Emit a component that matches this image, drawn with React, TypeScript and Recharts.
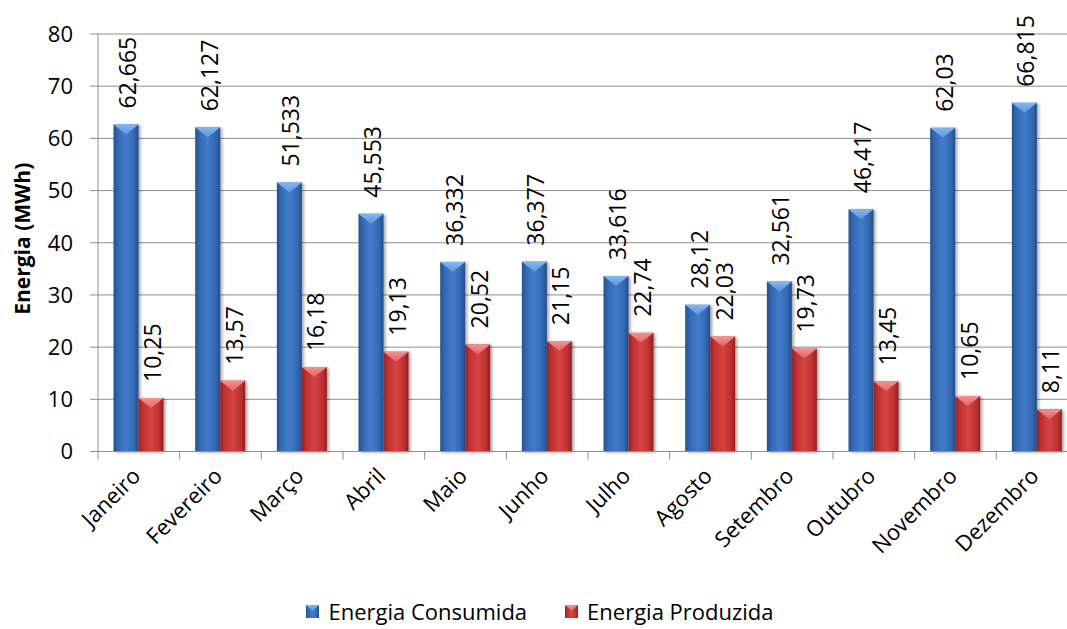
import React from 'react';
import { BarChart, Bar, XAxis, YAxis, CartesianGrid, Legend, LabelList, Label } from 'recharts';

// dados
const meses = ['Janeiro', 'Fevereiro', 'Março', 'Abril', 'Maio', 'Junho', 'Julho', 'Agosto', 'Setembro', 'Outubro', 'Novembro', 'Dezembro'];
const consumida = [62.665, 62.127, 51.533, 45.553, 36.332, 36.377, 33.616, 28.12, 32.561, 46.417, 62.03, 66.815];
const produzida = [10.25, 13.57, 16.18, 19.13, 20.52, 21.15, 22.74, 22.03, 19.73, 13.45, 10.65, 8.11];
const yTicks = [0, 10, 20, 30, 40, 50, 60, 70, 80];

const data = meses.map((m, i) => ({ mes: m, consumida: consumida[i], produzida: produzida[i] }));

const FONT = '"Open Sans", sans-serif';
const CHART_W = 1090;
const CHART_H = 629;
const MARGIN = { top: 34, right: 12, left: 0, bottom: 0 };
const Y_W = 98;
const BAND = (CHART_W - MARGIN.right - MARGIN.left - Y_W) / meses.length;
const GRID = '#8e8e8e';

const fmt = (v: number) => String(v).replace('.', ',');

const makeShape = (id: string, bevel: string) => (props: any) => {
  const { x, y, width, height } = props;
  if (!height || height <= 0) return null;
  const b = Math.min(width * 0.4, height);
  return (
    <g filter="url(#sombra)">
      <rect x={x} y={y} width={width} height={height} fill={`url(#${id})`} />
      <polygon points={`${x},${y} ${x + width},${y} ${x + width / 2},${y + b}`} fill={`url(#${bevel})`} />
    </g>
  );
};

const BarLabel = (props: any) => {
  const { x, y, width, value } = props;
  const cx = x + width / 2 + 1;
  const cy = y - 16;
  return (
    <text x={cx} y={cy} transform={`rotate(-90, ${cx}, ${cy})`} textAnchor="start" dominantBaseline="central"
      fontFamily={FONT} fontSize={23} fill="#000">
      {fmt(value)}
    </text>
  );
};

const XTick = (props: any) => {
  const { x, y, payload } = props;
  const bx = x - BAND / 2;
  const px = x + 3;
  const py = y + 26;
  return (
    <g>
      <line x1={bx} y1={y} x2={bx} y2={y + 8} stroke={GRID} strokeWidth={1} />
      <text x={px} y={py} transform={`rotate(-45, ${px}, ${py})`} textAnchor="end" fontFamily={FONT} fontSize={22} fill="#000">
        {payload.value}
      </text>
    </g>
  );
};

const Icone = ({ grad, bevel }: { grad: string; bevel: string }) => (
  <svg width={13} height={13} style={{ marginRight: 9 }}>
    <rect x={0} y={0} width={13} height={13} fill={`url(#${grad})`} />
    <polygon points="0,0 13,0 6.5,6" fill={`url(#${bevel})`} />
  </svg>
);

const Legenda = () => (
  <div style={{ display: 'flex', justifyContent: 'center', alignItems: 'center', height: '100%', fontFamily: FONT, fontSize: 22, color: '#000' }}>
    <span style={{ display: 'flex', alignItems: 'center', marginRight: 38 }}>
      <Icone grad="azul" bevel="azulTopo" />Energia Consumida
    </span>
    <span style={{ display: 'flex', alignItems: 'center' }}>
      <Icone grad="vermelho" bevel="vermelhoTopo" />Energia Produzida
    </span>
  </div>
);

const Gradientes = () => (
  <>
    <linearGradient id="azul" x1="0" y1="0" x2="1" y2="0">
      <stop offset="0%" stopColor="#25508f" />
      <stop offset="18%" stopColor="#3469b3" />
      <stop offset="50%" stopColor="#427cca" />
      <stop offset="82%" stopColor="#3469b3" />
      <stop offset="100%" stopColor="#244c88" />
    </linearGradient>
    <linearGradient id="azulTopo" x1="0" y1="0" x2="0" y2="1">
      <stop offset="0%" stopColor="#86b6f0" />
      <stop offset="100%" stopColor="#5f95dc" />
    </linearGradient>
    <linearGradient id="vermelho" x1="0" y1="0" x2="1" y2="0">
      <stop offset="0%" stopColor="#962323" />
      <stop offset="18%" stopColor="#bf3131" />
      <stop offset="50%" stopColor="#d84343" />
      <stop offset="82%" stopColor="#bf3131" />
      <stop offset="100%" stopColor="#8e2020" />
    </linearGradient>
    <linearGradient id="vermelhoTopo" x1="0" y1="0" x2="0" y2="1">
      <stop offset="0%" stopColor="#f19393" />
      <stop offset="100%" stopColor="#e06464" />
    </linearGradient>
  </>
);

export default function App() {
  return (
    <div style={{ position: 'absolute', left: 0, top: 0, width: 1067, height: 629, overflow: 'hidden', background: '#fff' }}>
      <BarChart width={CHART_W} height={CHART_H} data={data} margin={MARGIN} barCategoryGap="19%" barGap={0}>
        <defs>
          <Gradientes />
          <filter id="sombra" x="-20%" y="-5%" width="150%" height="115%">
            <feDropShadow dx={2} dy={1} stdDeviation={1.5} floodColor="#000" floodOpacity={0.35} />
          </filter>
        </defs>
        <CartesianGrid vertical={false} stroke={GRID} strokeWidth={1} />
        <XAxis dataKey="mes" height={129.5} interval={0} tickLine={false} tickSize={0} tickMargin={0}
          axisLine={{ stroke: GRID }} tick={<XTick />} />
        <YAxis width={Y_W} domain={[0, 80]} ticks={yTicks} interval={0} tickSize={8} tickMargin={17}
          axisLine={{ stroke: GRID }} tickLine={{ stroke: GRID }}
          tick={{ fontFamily: FONT, fontSize: 22, fill: '#000' }}>
          <Label content={(p: any) => {
            const vb = p.viewBox;
            const cx = 22;
            const cy = vb.y + vb.height / 2 - 4;
            return (
              <text x={cx} y={cy} transform={`rotate(-90, ${cx}, ${cy})`} textAnchor="middle" dominantBaseline="central"
                fontFamily={FONT} fontSize={21} fontWeight="bold" fill="#000">
                Energia (MWh)
              </text>
            );
          }} />
        </YAxis>
        <Legend verticalAlign="bottom" content={<Legenda />} wrapperStyle={{ left: 0, width: 1080, height: 48, top: 587 }} />
        <Bar dataKey="consumida" name="Energia Consumida" fill="#3a70bd" isAnimationActive={false} shape={makeShape('azul', 'azulTopo')}>
          <LabelList dataKey="consumida" content={<BarLabel />} />
        </Bar>
        <Bar dataKey="produzida" name="Energia Produzida" fill="#c83a3a" isAnimationActive={false} shape={makeShape('vermelho', 'vermelhoTopo')}>
          <LabelList dataKey="produzida" content={<BarLabel />} />
        </Bar>
      </BarChart>
    </div>
  );
}
